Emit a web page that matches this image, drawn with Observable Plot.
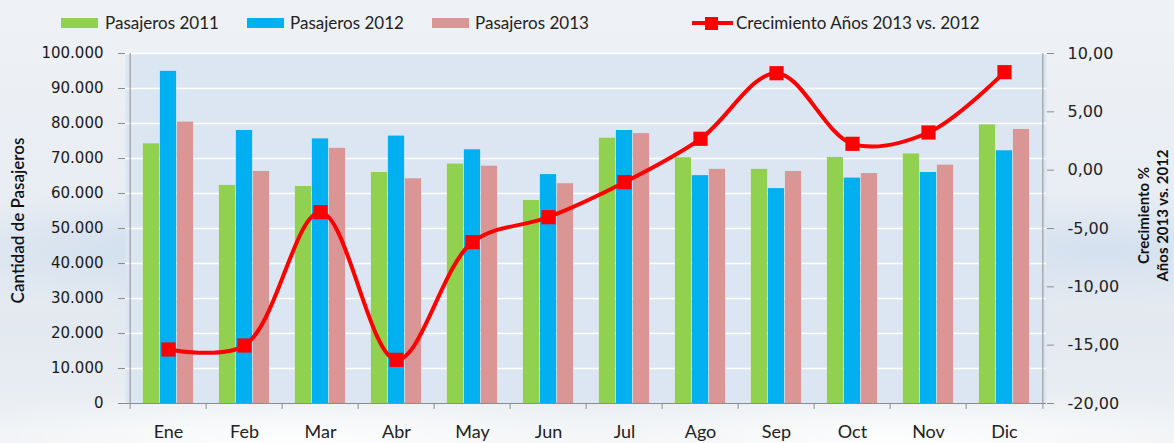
<!DOCTYPE html>
<html>
<head>
<meta charset="utf-8">
<script src="https://cdn.jsdelivr.net/npm/d3@7"></script>
<script src="https://cdn.jsdelivr.net/npm/@observablehq/plot@0.6"></script>
<style>
  html, body { margin: 0; padding: 0; }
  body {
    width: 1174px; height: 443px; overflow: hidden; position: relative;
    font-family: Lato, "Open Sans", sans-serif;
    background:
      radial-gradient(ellipse 260px 60px at 150px 250px, rgba(200,218,236,0.7), rgba(200,218,236,0) 100%),
      radial-gradient(ellipse 300px 60px at 1100px 250px, rgba(205,220,238,0.7), rgba(205,220,238,0) 100%),
      radial-gradient(ellipse 400px 50px at 300px 440px, rgba(255,255,255,0.9), rgba(255,255,255,0) 100%),
      radial-gradient(ellipse 400px 50px at 900px 440px, rgba(255,255,255,0.9), rgba(255,255,255,0) 100%),
      linear-gradient(to bottom, #eef1f5 0%, #e8edf3 50%, #e3e9f0 75%, #eef1f4 100%);
  }
  #legend { position: relative; height: 40px; width: 1174px; }
  .sw { position: absolute; top: 18px; height: 10px; width: 37px; }
  .lt { position: absolute; top: 11px; font-size: 17px; color: #222; white-space: nowrap; line-height: 24px; }
  .ln { position: absolute; top: 21px; height: 4px; width: 41px; left: 692px; background: #ff0000; }
  .mk { position: absolute; top: 17px; height: 13px; width: 13px; left: 705px; background: #ff0000; }
  #chart { position: absolute; top: 40px; left: 0; }
</style>
</head>
<body>
<div id="legend">
  <div class="sw" style="left:61px;background:#92d050"></div><div class="lt" style="left:105px">Pasajeros 2011</div>
  <div class="sw" style="left:247px;background:#00b0f0"></div><div class="lt" style="left:290px">Pasajeros 2012</div>
  <div class="sw" style="left:432px;background:#d99694"></div><div class="lt" style="left:475px">Pasajeros 2013</div>
  <div class="ln"></div><div class="mk"></div><div class="lt" style="left:736px">Crecimiento Años 2013 vs. 2012</div>
</div>
<div id="chart"></div>
<script>
const months = ["Ene","Feb","Mar","Abr","May","Jun","Jul","Ago","Sep","Oct","Nov","Dic"];
const pas2011 = [74200, 62300, 62000, 66000, 68400, 58000, 75800, 70200, 66900, 70300, 71300, 79600];
const pas2012 = [94900, 78000, 75600, 76400, 72500, 65400, 78000, 65100, 61400, 64400, 66000, 72200];
const pas2013 = [80400, 66300, 72900, 64200, 67800, 62800, 77100, 66900, 66300, 65700, 68100, 78300];
const growth  = [-15.37, -15.03, -3.60, -16.26, -6.17, -4.03, -1.03, 2.69, 8.31, 2.26, 3.23, 8.40];
const leftTicks = [0, 10000, 20000, 30000, 40000, 50000, 60000, 70000, 80000, 90000, 100000];
const rightTicks = [-20, -15, -10, -5, 0, 5, 10];
const leftTitle = "Cantidad de Pasajeros";
const rightTitle = "Crecimiento %\nAños 2013 vs. 2012";

const rows = months.map((m, i) => ({month: m, p2011: pas2011[i], p2012: pas2012[i], p2013: pas2013[i], g: growth[i]}));

// right axis (growth %) mapped onto the left scale domain
const gMin = -20, gMax = 10, yMax = 100000;
const toLeft = g => (g - gMin) / (gMax - gMin) * yMax;
const fromLeft = v => v / yMax * (gMax - gMin) + gMin;

const loc = d3.formatLocale({decimal: ",", thousands: ".", grouping: [3], currency: ["", ""]});
const fmtLeft = loc.format(",");
const fmtRight = v => ((Math.round(fromLeft(v) * 100) / 100) + 0).toFixed(2).replace("-0.00", "0.00").replace(".", ",");

const W = 1174, mL = 125, mR = 128;
const bw = (W - mL - mR) / months.length;
const barW = 17;
const inset = (bw - barW) / 2;
const axisColor = "#8c8c8c";

const chart = Plot.plot({
  width: W,
  height: 403,
  marginTop: 13,
  marginBottom: 40,
  marginLeft: mL,
  marginRight: mR,
  style: {background: "transparent", fontFamily: "Lato, 'Open Sans', sans-serif", overflow: "visible"},
  x: {domain: months, padding: 0, axis: null, label: null},
  y: {domain: [0, yMax], axis: null, label: null},
  marks: [
    Plot.frame({fill: "#dce6f2", stroke: null}),
    Plot.ruleY(leftTicks.filter(d => d > 0), {stroke: "white", strokeWidth: 1.6}),
    Plot.barY(rows, {x: "month", y: "p2011", fill: "#92d050", insetLeft: inset, insetRight: inset, dx: -barW}),
    Plot.barY(rows, {x: "month", y: "p2012", fill: "#00b0f0", insetLeft: inset, insetRight: inset}),
    Plot.barY(rows, {x: "month", y: "p2013", fill: "#d99694", insetLeft: inset, insetRight: inset, dx: barW}),
    // axis lines
    Plot.ruleY([0], {stroke: axisColor, strokeWidth: 1}),
    Plot.ruleX([months[0]], {y1: 0, y2: yMax, dx: -bw / 2, stroke: axisColor}),
    Plot.ruleX([months[months.length - 1]], {y1: 0, y2: yMax, dx: bw / 2, stroke: axisColor}),
    // category boundary ticks
    Plot.ruleX(months, {y1: 0, y2: -1700, dx: -bw / 2, stroke: axisColor}),
    Plot.ruleX([months[months.length - 1]], {y1: 0, y2: -1700, dx: bw / 2, stroke: axisColor}),
    Plot.axisX({tickSize: 0, tickPadding: 22, fontSize: 18, fill: "#222", label: null}),
    Plot.axisY(leftTicks, {anchor: "left", tickSize: 7, tickPadding: 15, tickFormat: fmtLeft, stroke: axisColor, fill: "#1a1a1a", fontSize: 15, fontFamily: "DejaVu Sans", label: null}),
    Plot.axisY(rightTicks.map(toLeft), {anchor: "right", tickSize: 7, tickPadding: 14, tickFormat: fmtRight, stroke: axisColor, fill: "#222", fontSize: 16, fontFamily: "DejaVu Sans", label: null}),
    // growth line
    Plot.line(rows, {x: "month", y: d => toLeft(d.g), curve: "catmull-rom", stroke: "#ff0000", strokeWidth: 4}),
    Plot.dot(rows, {x: "month", y: d => toLeft(d.g), symbol: "square", r: 8, fill: "#ff0000", stroke: null}),
    // axis titles
    Plot.text([leftTitle], {frameAnchor: "left", textAnchor: "middle", dx: -107, dy: -8, rotate: -90, fontSize: 17, fontWeight: 600, fill: "#111"}),
    Plot.text([rightTitle], {frameAnchor: "right", textAnchor: "middle", dx: 106, dy: -13, rotate: -90, fontSize: 15, fontWeight: "bold", fill: "#111", lineHeight: 1.25})
  ]
});
document.getElementById("chart").appendChild(chart);
</script>
</body>
</html>
